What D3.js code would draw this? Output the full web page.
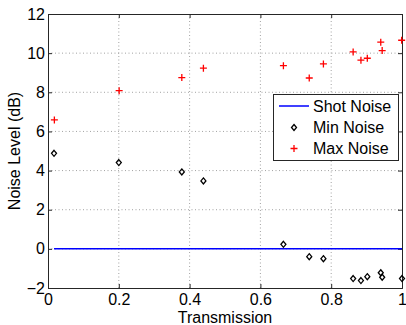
<!DOCTYPE html>
<html>
<head>
<meta charset="utf-8">
<script src="https://cdn.jsdelivr.net/npm/d3@7/dist/d3.min.js"></script>
<style>
  html, body { margin: 0; padding: 0; background: #fff; }
  svg { display: block; font-family: "Liberation Sans", Arial, sans-serif; }
</style>
</head>
<body>
<svg id="chart" width="406" height="325"></svg>
<script>
// Transmission values for each measurement
const transmission = [0.017, 0.200, 0.378, 0.439, 0.665, 0.738, 0.778, 0.862, 0.884, 0.902, 0.940, 0.944, 1.000];
// Minimum noise level (dB) at each transmission
const minNoise = [4.88, 4.41, 3.93, 3.47, 0.23, -0.40, -0.50, -1.52, -1.62, -1.42, -1.22, -1.45, -1.52];
// Maximum noise level (dB) at each transmission
const maxNoiseT = [0.018, 0.201, 0.378, 0.439, 0.665, 0.738, 0.778, 0.862, 0.884, 0.902, 0.940, 0.944, 0.999];
const maxNoise = [6.59, 8.08, 8.75, 9.23, 9.36, 8.73, 9.45, 10.06, 9.64, 9.74, 10.56, 10.13, 10.66];
// Shot noise reference level
const shotNoiseT = [0.017, 1.0];
const shotNoise = [0, 0];

const xTicks = [0, 0.2, 0.4, 0.6, 0.8, 1];
const yTicks = [-2, 0, 2, 4, 6, 8, 10, 12];
const legendLabels = ["Shot Noise", "Min Noise", "Max Noise"];

const svg = d3.select("#chart");
const L = 48, R = 402, T = 14, B = 288;

const x = d3.scaleLinear().domain([0, 1]).range([L, R]);
const y = d3.scaleLinear().domain([-2, 12]).range([B, T]);

const axisColor = "#262626";
const fontSize = 16;

// grid
const grid = svg.append("g").attr("stroke", "#8a8a8a").attr("stroke-width", 0.8)
  .attr("stroke-dasharray", "1,2.5");
xTicks.slice(1, -1).forEach(t => {
  grid.append("line").attr("x1", x(t)).attr("x2", x(t)).attr("y1", T).attr("y2", B);
});
yTicks.slice(1, -1).forEach(t => {
  grid.append("line").attr("x1", L).attr("x2", R).attr("y1", y(t)).attr("y2", y(t));
});

// axes with inward ticks on all four sides
const tickLen = 4;
svg.append("g").attr("transform", `translate(0,${B})`)
  .call(d3.axisBottom(x).tickValues(xTicks).tickSize(-tickLen)
    .tickFormat(d => d3.format("")(d)))
  .call(g => {
    g.select(".domain").attr("stroke", axisColor);
    g.selectAll(".tick line").attr("stroke", axisColor);
    g.selectAll("text").attr("font-size", fontSize).attr("fill", "#000")
      .attr("font-family", "Liberation Sans, Arial, sans-serif")
      .attr("y", 17).attr("dy", "0");
  });
svg.append("g").attr("transform", `translate(${L},0)`)
  .call(d3.axisLeft(y).tickValues(yTicks).tickSize(-tickLen).tickPadding(3)
    .tickFormat(d => d3.format("")(d)))
  .call(g => {
    g.select(".domain").attr("stroke", axisColor);
    g.selectAll(".tick line").attr("stroke", axisColor);
    g.selectAll("text").attr("font-size", fontSize).attr("fill", "#000")
      .attr("font-family", "Liberation Sans, Arial, sans-serif");
  });
svg.append("g").attr("transform", `translate(0,${T})`)
  .call(d3.axisTop(x).tickValues(xTicks).tickSize(-tickLen).tickFormat(""))
  .call(g => {
    g.select(".domain").attr("stroke", axisColor);
    g.selectAll(".tick line").attr("stroke", axisColor);
  });
svg.append("g").attr("transform", `translate(${R},0)`)
  .call(d3.axisRight(y).tickValues(yTicks).tickSize(-tickLen).tickFormat(""))
  .call(g => {
    g.select(".domain").attr("stroke", axisColor);
    g.selectAll(".tick line").attr("stroke", axisColor);
  });

// shot noise line
const line = d3.line().x(d => x(d[0])).y(d => y(d[1]));
svg.append("path")
  .datum(shotNoiseT.map((t, i) => [t, shotNoise[i]]))
  .attr("d", line).attr("fill", "none").attr("stroke", "#0000ff").attr("stroke-width", 1.5);

// marker shapes
function diamond(g, cx, cy) {
  g.append("path")
    .attr("d", `M${cx},${cy - 3} L${cx + 2.5},${cy} L${cx},${cy + 3} L${cx - 2.5},${cy} Z`)
    .attr("fill", "none").attr("stroke", "#000").attr("stroke-width", 1.3);
}
function plus(g, cx, cy) {
  g.append("path")
    .attr("d", `M${cx - 3.5},${cy} H${cx + 3.5} M${cx},${cy - 3.5} V${cy + 3.5}`)
    .attr("stroke", "#ff0000").attr("stroke-width", 1.3);
}

const minG = svg.append("g");
transmission.forEach((t, i) => diamond(minG, x(t), y(minNoise[i])));
const maxG = svg.append("g");
maxNoiseT.forEach((t, i) => plus(maxG, x(t), y(maxNoise[i])));

// axis titles
svg.append("text").attr("x", x(0.5)).attr("y", 323).attr("text-anchor", "middle")
  .attr("font-size", fontSize).text("Transmission");
svg.append("text").attr("transform", `translate(20,${(T + B) / 2}) rotate(-90)`)
  .attr("text-anchor", "middle").attr("font-size", fontSize).text("Noise Level (dB)");

// legend
const lg = svg.append("g");
lg.append("rect").attr("x", 273.5).attr("y", 94.5).attr("width", 125).attr("height", 66)
  .attr("fill", "#fff").attr("stroke", axisColor).attr("stroke-width", 1);
const rows = [106, 127.5, 148.5];
lg.append("line").attr("x1", 279).attr("x2", 309).attr("y1", rows[0]).attr("y2", rows[0])
  .attr("stroke", "#0000ff").attr("stroke-width", 1.5);
diamond(lg, 294, rows[1]);
plus(lg, 294, rows[2]);
legendLabels.forEach((s, i) => {
  lg.append("text").attr("x", 313).attr("y", rows[i]).attr("dy", "0.35em")
    .attr("font-size", fontSize).text(s);
});
</script>
</body>
</html>
